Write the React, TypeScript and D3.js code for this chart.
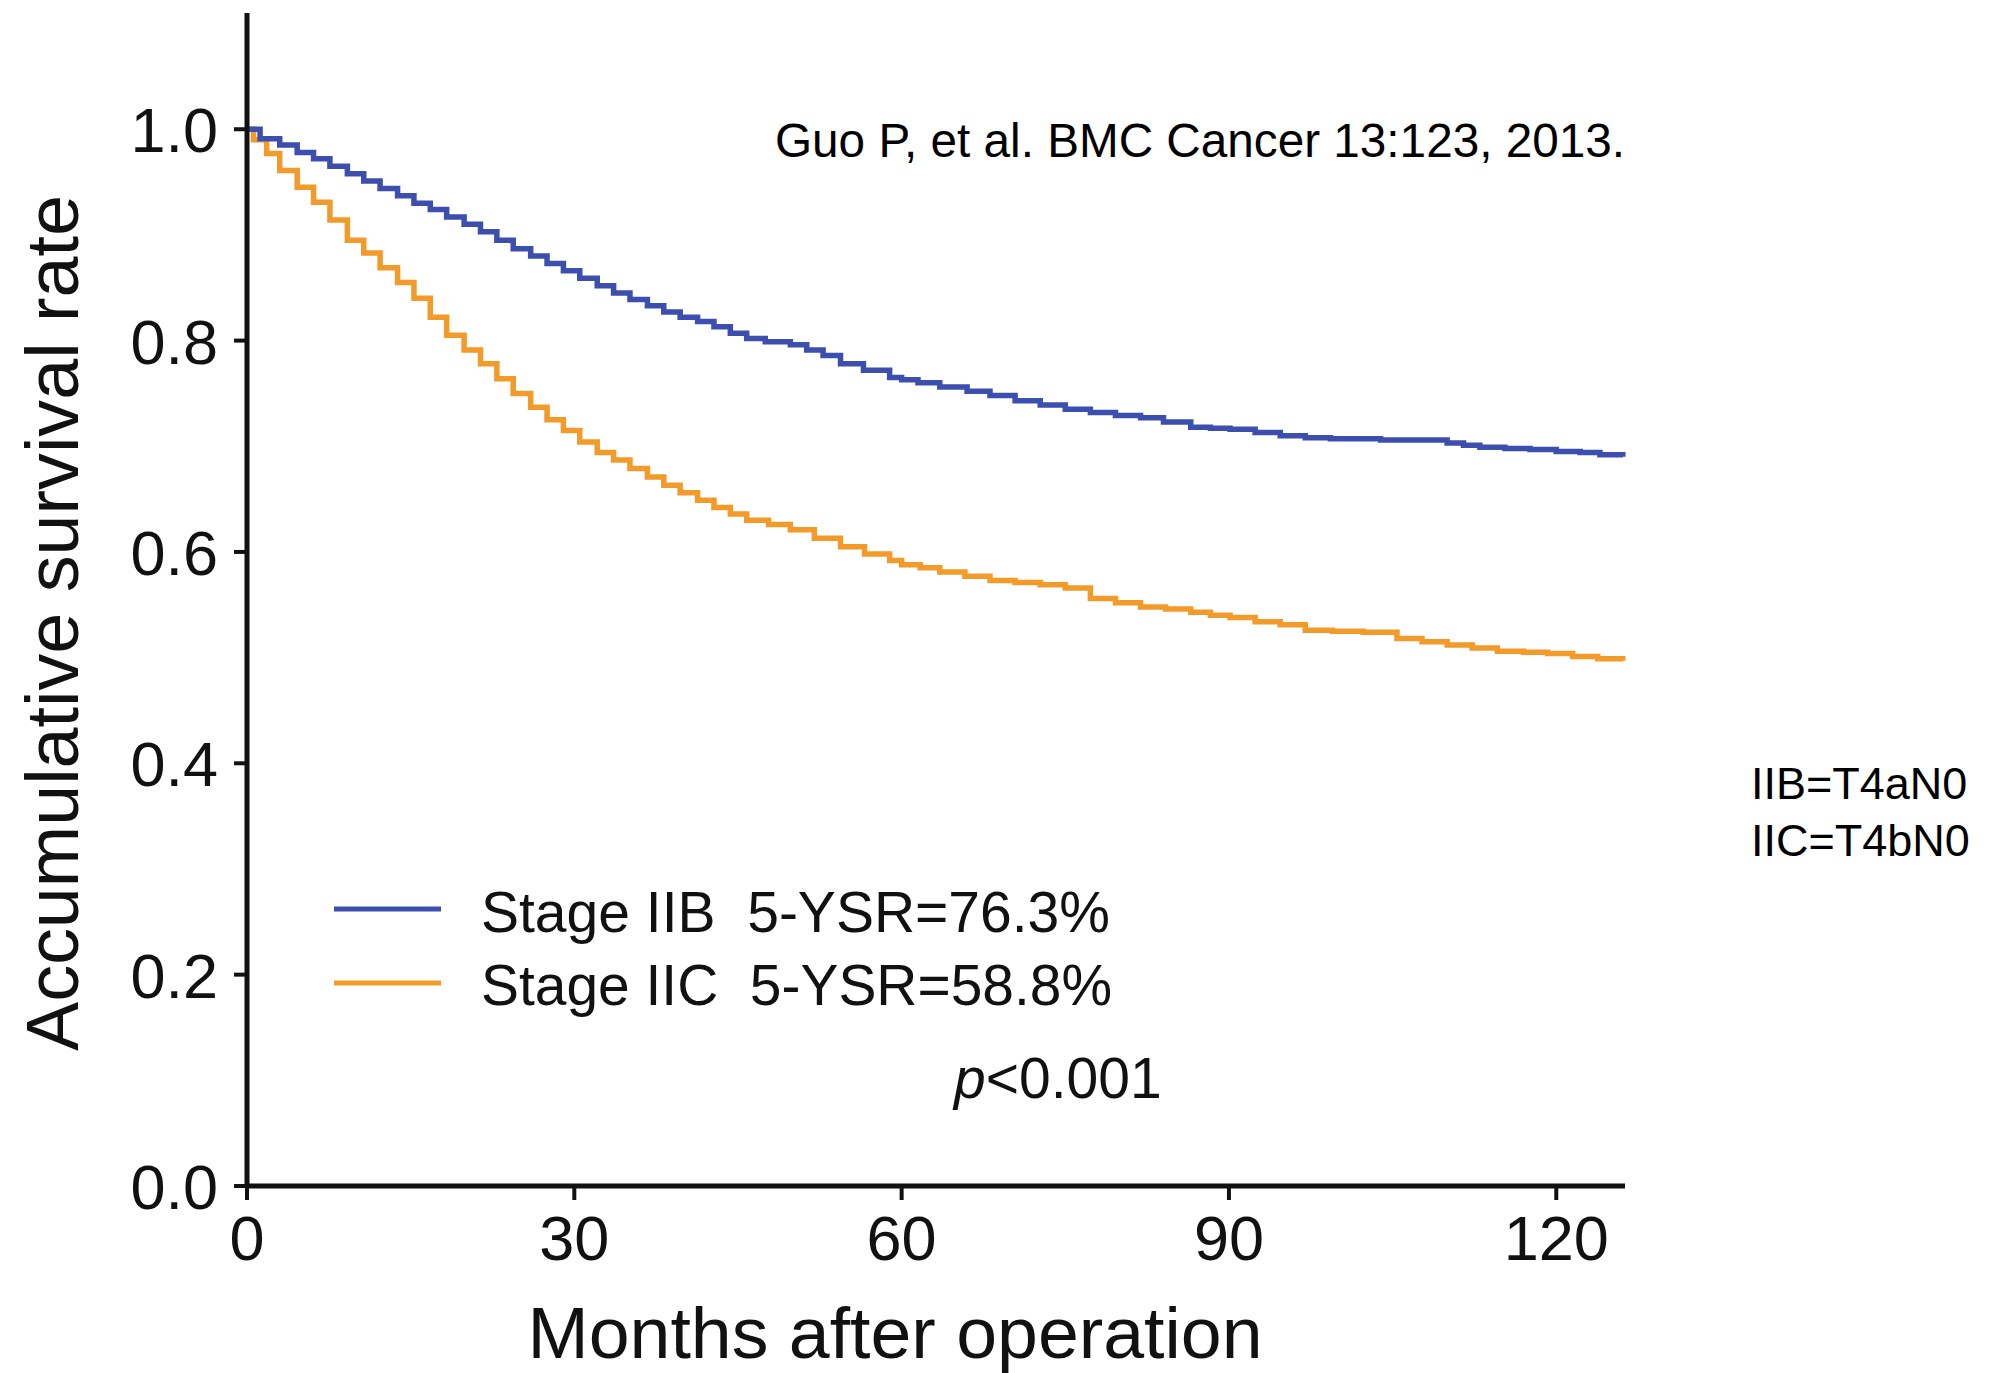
import React from "react";
import * as d3 from "d3";

// ---- data ----
const iibMonths = [0, 1.2, 3.0, 4.6, 6.1, 7.6, 9.2, 10.7, 12.2, 13.8, 15.3, 16.8, 18.3, 19.9, 21.4, 22.9, 24.4, 26.0, 27.5, 29.0, 30.5, 32.1, 33.6, 35.1, 36.7, 38.2, 39.7, 41.3, 42.8, 44.3, 45.8, 47.5, 49.8, 51.3, 52.8, 54.4, 56.5, 58.9, 60, 61.5, 63.5, 66, 68.1, 70.4, 72.7, 75, 77.3, 79.6, 81.9, 84, 86.5, 88.3, 90.1, 92.4, 94.7, 97, 99.3, 103.9, 108.4, 110, 111.5, 113, 115.3, 117.6, 120, 122.2, 124, 126.1];
const iibSurv = [1.0, 0.991, 0.985, 0.978, 0.972, 0.965, 0.958, 0.951, 0.944, 0.937, 0.93, 0.924, 0.917, 0.91, 0.903, 0.895, 0.887, 0.88, 0.873, 0.866, 0.859, 0.852, 0.845, 0.839, 0.833, 0.827, 0.822, 0.818, 0.813, 0.807, 0.802, 0.799, 0.796, 0.791, 0.786, 0.778, 0.772, 0.765, 0.763, 0.76, 0.756, 0.752, 0.748, 0.743, 0.739, 0.735, 0.732, 0.729, 0.727, 0.723, 0.718, 0.717, 0.716, 0.713, 0.71, 0.708, 0.707, 0.706, 0.706, 0.703, 0.701, 0.699, 0.698, 0.697, 0.695, 0.694, 0.692, 0.69];

const iicMonths = [0, 0.6, 1.8, 3.0, 4.6, 6.1, 7.6, 9.2, 10.7, 12.2, 13.8, 15.3, 16.8, 18.3, 19.9, 21.4, 22.9, 24.4, 26.0, 27.5, 29.0, 30.5, 32.1, 33.6, 35.1, 36.7, 38.2, 39.7, 41.3, 42.8, 44.3, 45.8, 47.8, 49.8, 52, 54.4, 56.6, 58.9, 60, 61.7, 63.5, 65.8, 68.1, 70.4, 72.7, 75, 77.3, 79.6, 81.9, 84.2, 86.5, 88.3, 90.1, 92.4, 94.7, 97, 99.5, 102.3, 105.4, 107.7, 110, 112.3, 114.6, 117, 119.2, 121.5, 123.8, 126.1];
const iicSurv = [1.0, 0.99, 0.977, 0.961, 0.945, 0.931, 0.914, 0.895, 0.883, 0.869, 0.855, 0.84, 0.822, 0.805, 0.791, 0.778, 0.764, 0.75, 0.737, 0.725, 0.715, 0.704, 0.694, 0.687, 0.679, 0.671, 0.663, 0.656, 0.649, 0.642, 0.636, 0.63, 0.626, 0.621, 0.613, 0.605, 0.598, 0.592, 0.588, 0.585, 0.581, 0.577, 0.573, 0.571, 0.569, 0.566, 0.556, 0.552, 0.548, 0.546, 0.543, 0.54, 0.538, 0.534, 0.531, 0.526, 0.525, 0.524, 0.518, 0.515, 0.512, 0.509, 0.506, 0.505, 0.504, 0.501, 0.499, 0.497];

const xTicks = [0, 30, 60, 90, 120];
const yTicks = [0, 0.2, 0.4, 0.6, 0.8, 1.0];
const legendLabels = ["Stage IIB  5-YSR=76.3%", "Stage IIC  5-YSR=58.8%"];
const seriesColors = ["#3C4FAE", "#F29B2A"];
const noteLines = ["IIB=T4aN0", "IIC=T4bN0"];

const FONT = "'Liberation Sans', Arial, Helvetica, sans-serif";

export default function App() {
  const W = 2010;
  const H = 1373;
  const x = d3.scaleLinear().domain([0, 126.3]).range([247, 1625]);
  const y = d3.scaleLinear().domain([0, 1.11]).range([1186, 13]);

  const line = d3
    .line<[number, number]>()
    .x((d) => x(d[0]))
    .y((d) => y(d[1]))
    .curve(d3.curveStepAfter);

  const series = [
    iibMonths.map((m, i) => [m, iibSurv[i]] as [number, number]),
    iicMonths.map((m, i) => [m, iicSurv[i]] as [number, number]),
  ];

  const x0 = x(0);
  const yBase = y(0);

  return (
    <div style={{ position: "absolute", left: 0, top: 0 }}>
      <svg width={W} height={H} viewBox={`0 0 ${W} ${H}`} style={{ display: "block", background: "#fff" }}>
        <rect x={0} y={0} width={W} height={H} fill="#fff" />
        {/* curves (orange drawn first so blue on top) */}
        {[1, 0].map((si) => (
          <path
            key={si}
            d={line(series[si]) || ""}
            fill="none"
            stroke={seriesColors[si]}
            strokeWidth={5.5}
            strokeLinejoin="miter"
          />
        ))}

        {/* axes */}
        <line x1={x0} x2={x0} y1={y(1.11)} y2={yBase + 2} stroke="#111" strokeWidth={5} />
        <line x1={x0 - 2} x2={x.range()[1]} y1={yBase} y2={yBase} stroke="#111" strokeWidth={5} />
        {yTicks.map((t) => (
          <g key={"y" + t}>
            <line x1={x0 - 13} x2={x0} y1={y(t)} y2={y(t)} stroke="#111" strokeWidth={4} />
            <text
              x={218}
              y={y(t) + 23}
              textAnchor="end"
              fontFamily={FONT}
              fontSize={63}
              fill="#111"
            >
              {t.toFixed(1)}
            </text>
          </g>
        ))}
        {xTicks.map((t) => (
          <g key={"x" + t}>
            <line x1={x(t)} x2={x(t)} y1={yBase} y2={yBase + 14} stroke="#111" strokeWidth={4} />
            <text x={x(t)} y={1260} textAnchor="middle" fontFamily={FONT} fontSize={63} fill="#111">
              {t}
            </text>
          </g>
        ))}

        {/* axis titles */}
        <text
          x={895}
          y={1358}
          textAnchor="middle"
          fontFamily={FONT}
          fontSize={72}
          fill="#111"
          textLength={735}
          lengthAdjust="spacingAndGlyphs"
        >
          Months after operation
        </text>
        <text
          transform={`translate(78, 623) rotate(-90)`}
          x={0}
          y={0}
          textAnchor="middle"
          fontFamily={FONT}
          fontSize={75}
          fill="#111"
          textLength={856}
          lengthAdjust="spacingAndGlyphs"
        >
          Accumulative survival rate
        </text>

        {/* citation */}
        <text
          x={775}
          y={157}
          fontFamily={FONT}
          fontSize={48}
          fill="#000"
          textLength={850}
          lengthAdjust="spacingAndGlyphs"
        >
          Guo P, et al. BMC Cancer 13:123, 2013.
        </text>

        {/* legend */}
        {legendLabels.map((lab, i) => (
          <g key={lab}>
            <line
              x1={334}
              x2={441}
              y1={909 + i * 74}
              y2={909 + i * 74}
              stroke={seriesColors[i]}
              strokeWidth={5}
            />
            <text
              x={481}
              y={932 + i * 73}
              fontFamily={FONT}
              fontSize={57}
              fill="#111"
              style={{ whiteSpace: "pre" }}
              textLength={629 + i * 2}
              lengthAdjust="spacingAndGlyphs"
            >
              {lab}
            </text>
          </g>
        ))}
        <text x={954} y={1098} fontFamily={FONT} fontSize={57} fill="#111">
          <tspan fontStyle="italic">p</tspan>
          <tspan>{"<0.001"}</tspan>
        </text>

        {/* stage notes */}
        {noteLines.map((t, i) => (
          <text key={t} x={1751} y={799 + i * 57} fontFamily={FONT} fontSize={45} fill="#000">
            {t}
          </text>
        ))}
      </svg>
    </div>
  );
}
